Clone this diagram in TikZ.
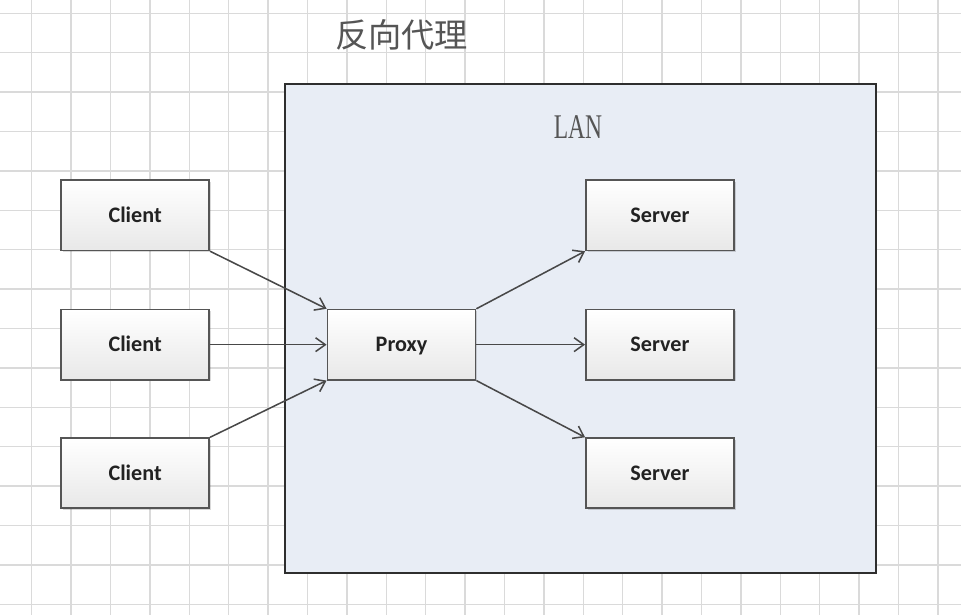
\documentclass[tikz,border=0pt]{standalone}
\usepackage{fontspec}
\usepackage{xcolor}
\usepackage{tikz}
\usetikzlibrary{arrows.meta, positioning, shadows}
\newfontfamily\cjk{Noto Sans CJK SC}
\newfontfamily\boxfont{Carlito}
\newfontfamily\lanfont{Liberation Serif}
\definecolor{gridline}{HTML}{DADADA}
\definecolor{lanfill}{HTML}{E8EDF5}
\definecolor{lanedge}{HTML}{2E2E2E}
\definecolor{boxedge}{HTML}{555555}
\definecolor{linkline}{HTML}{484848}
\definecolor{textprimary}{HTML}{222222}
\definecolor{textsecondary}{HTML}{555555}

\begin{document}
\begin{tikzpicture}[
      host/.style={draw=boxedge, line width=1.2pt, rectangle, minimum width=3.76cm,
        minimum height=1.78cm, inner sep=0pt, text height=10.3pt, text depth=0pt,
        top color=white, bottom color=black!9,
        drop shadow={shadow xshift=1.2pt, shadow yshift=-1.2pt, fill=black, opacity=0.15},
        font=\boxfont\bfseries\fontsize{16}{18}\selectfont, text=textprimary},
      lan/.style={draw=lanedge, fill=lanfill, line width=1.4pt},
      rel/.style={-{Straight Barb[length=7pt, width=10pt]}, draw=linkline, line width=1.1pt},
      lbl/.style={inner sep=0pt, text=textsecondary}]
    \fill[white] (0,0) rectangle (24.391,-15.609);
    \useasboundingbox (0,0) rectangle (24.391,-15.609);
    \foreach \i in {0,...,23}
      \draw[gridline, line width=1pt] (0.805+\i,0) -- (0.805+\i,-15.609);
    \foreach \j in {0,...,15}
      \draw[gridline, line width=1pt] (0,-0.338-\j) -- (24.391,-0.338-\j);
    \draw[lan] (7.234,-2.132) rectangle (22.234,-14.536);
    \node[lbl, font=\cjk\fontsize{24}{28}\selectfont] (title) at (10.19,-0.897) {反向代理};
    \node[lbl, font=\lanfont\fontsize{25}{28}\selectfont] (lanname) at (14.67,-3.223) {\scalebox{0.68}[1]{LAN}};
    \node[host] (client1) at (3.43,-5.465) {Client};
    \node[host] (client2) at (3.43,-8.748) {Client};
    \node[host] (client3) at (3.43,-12.01) {Client};
    \node[host] (proxy) at (10.19,-8.748) {Proxy};
    \node[host] (server1) at (16.75,-5.465) {Server};
    \node[host] (server2) at (16.75,-8.748) {Server};
    \node[host] (server3) at (16.75,-12.01) {Server};
    \draw[rel] (client1.south east) -- (proxy.north west);
    \draw[rel] (client2.east) -- (proxy.west);
    \draw[rel] (client3.north east) -- (proxy.south west);
    \draw[rel] (proxy.north east) -- (server1.south west);
    \draw[rel] (proxy.east) -- (server2.west);
    \draw[rel] (proxy.south east) -- (server3.north west);
  \end{tikzpicture}
\end{document}
